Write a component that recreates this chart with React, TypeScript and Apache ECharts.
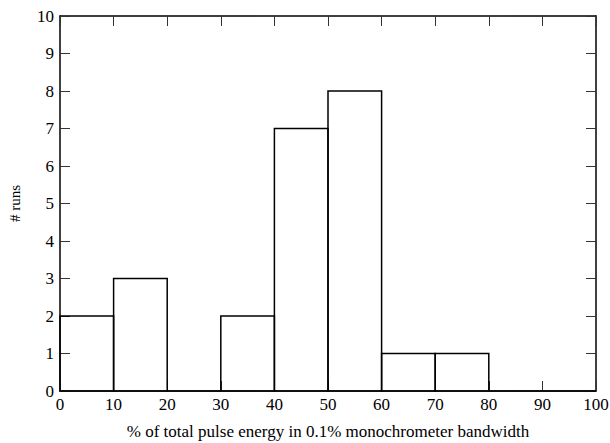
import React, { useEffect, useRef } from "react";
import * as echarts from "echarts";

const binStarts = [0, 10, 20, 30, 40, 50, 60, 70, 80, 90];
const binWidth = 10;
const counts = [2, 3, 0, 2, 7, 8, 1, 1, 0, 0];
const xLabel = "% of total pulse energy in 0.1% monochrometer bandwidth";
const yLabel = "# runs";

const FONT = "Liberation Serif";

export default function App() {
  const ref = useRef<HTMLDivElement>(null);
  useEffect(() => {
    if (!ref.current) return;
    const chart = echarts.init(ref.current, undefined, { renderer: "svg" });
    const data = binStarts.map((s, i) => [s, counts[i]]);
    const axisCommon = {
      type: "value" as const,
      min: 0,
      interval: 10,
      axisLine: { show: true, onZero: false, lineStyle: { color: "#000", width: 1.5 } },
      axisTick: { show: true, inside: true, length: 10, lineStyle: { color: "#333", width: 1 } },
      splitLine: { show: false },
    };
    chart.setOption({
      animation: false,
      backgroundColor: "#fff",
      grid: { left: 60, top: 16, right: 14, bottom: 52, outerBoundsMode: "none", containLabel: false },
      xAxis: [
        {
          ...axisCommon,
          max: 100,
          position: "bottom",
          axisLabel: { color: "#000", fontFamily: FONT, fontSize: 17, margin: 5 },
          name: xLabel,
          nameLocation: "middle",
          nameGap: 32,
          nameTextStyle: { color: "#000", fontFamily: FONT, fontSize: 17 },
        },
        { ...axisCommon, max: 100, position: "top", axisLabel: { show: false } },
      ],
      yAxis: [
        {
          ...axisCommon,
          max: 10,
          interval: 1,
          position: "left",
          axisLabel: { color: "#000", fontFamily: FONT, fontSize: 17, margin: 6 },
          name: yLabel,
          nameLocation: "middle",
          nameGap: 38,
          nameTextStyle: { color: "#000", fontFamily: FONT, fontSize: 15 },
        },
        { ...axisCommon, max: 10, interval: 1, position: "right", axisLabel: { show: false } },
      ],
      series: [
        {
          type: "custom",
          xAxisIndex: 0,
          yAxisIndex: 0,
          data,
          renderItem: (params: any, api: any) => {
            const s = api.value(0);
            const c = api.value(1);
            const p1 = api.coord([s, c]);
            const p2 = api.coord([s + binWidth, 0]);
            return {
              type: "rect",
              shape: { x: p1[0], y: p1[1], width: p2[0] - p1[0], height: p2[1] - p1[1] },
              style: { fill: "none", stroke: "#000", lineWidth: 1.5 },
            };
          },
        },
      ],
    });
    return () => chart.dispose();
  }, []);
  return <div ref={ref} style={{ width: 610, height: 443, position: "absolute", left: 0, top: 0 }} />;
}
